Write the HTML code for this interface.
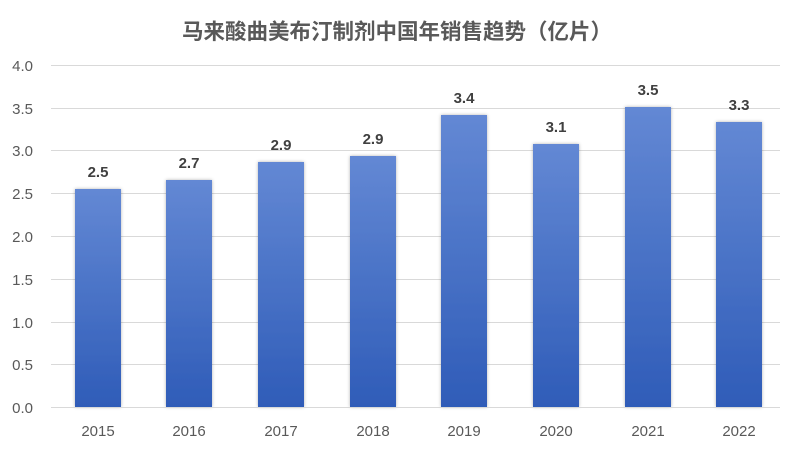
<!DOCTYPE html>
<html><head><meta charset="utf-8"><style>
body{margin:0;width:800px;height:448px;background:#fff;overflow:hidden}
</style></head><body>
<svg width="800" height="448" xmlns="http://www.w3.org/2000/svg" font-family="Liberation Sans, Noto Sans CJK SC, sans-serif">
<defs>
<linearGradient id="g" x1="0" y1="0" x2="0" y2="1">
<stop offset="0" stop-color="#6388d4"/><stop offset="1" stop-color="#2f5cb8"/>
</linearGradient>
<filter id="s" x="-20%" y="-5%" width="140%" height="110%"><feDropShadow dx="0" dy="0" stdDeviation="1.5" flood-color="#000" flood-opacity="0.3"/></filter>
</defs>
<text x="397" y="39" text-anchor="middle" font-size="21.5" font-weight="bold" fill="#595959" font-family="Noto Sans CJK SC, sans-serif">马来酸曲美布汀制剂中国年销售趋势（亿片）</text>
<g stroke="#d9d9d9" stroke-width="1">
<line x1="51" x2="780" y1="65.5" y2="65.5"/><line x1="51" x2="780" y1="108.5" y2="108.5"/>
<line x1="51" x2="780" y1="150.5" y2="150.5"/><line x1="51" x2="780" y1="193.5" y2="193.5"/>
<line x1="51" x2="780" y1="236.5" y2="236.5"/><line x1="51" x2="780" y1="279.5" y2="279.5"/>
<line x1="51" x2="780" y1="322.5" y2="322.5"/><line x1="51" x2="780" y1="364.5" y2="364.5"/>
</g>
<g font-size="15" fill="#595959" text-anchor="end">
<text x="33" y="71">4.0</text><text x="33" y="114">3.5</text><text x="33" y="156">3.0</text>
<text x="33" y="199">2.5</text><text x="33" y="242">2.0</text><text x="33" y="285">1.5</text>
<text x="33" y="328">1.0</text><text x="33" y="370">0.5</text><text x="33" y="413">0.0</text>
</g>
<g fill="url(#g)" filter="url(#s)">
<rect x="75" y="189" width="46" height="218"/>
<rect x="166" y="180" width="46" height="227"/>
<rect x="258" y="162" width="46" height="245"/>
<rect x="350" y="156" width="46" height="251"/>
<rect x="441" y="115" width="46" height="292"/>
<rect x="533" y="144" width="46" height="263"/>
<rect x="625" y="107" width="46" height="300"/>
<rect x="716" y="122" width="46" height="285"/>
</g>
<line x1="51" x2="780" y1="407.5" y2="407.5" stroke="#d9d9d9"/>
<g font-size="15" font-weight="bold" fill="#404040" text-anchor="middle">
<text x="98" y="177">2.5</text><text x="189" y="168">2.7</text><text x="281" y="150">2.9</text>
<text x="373" y="144">2.9</text><text x="464" y="103">3.4</text><text x="556" y="132">3.1</text>
<text x="648" y="95">3.5</text><text x="739" y="110">3.3</text>
</g>
<g font-size="15" fill="#595959" text-anchor="middle">
<text x="98" y="436">2015</text><text x="189" y="436">2016</text><text x="281" y="436">2017</text>
<text x="373" y="436">2018</text><text x="464" y="436">2019</text><text x="556" y="436">2020</text>
<text x="648" y="436">2021</text><text x="739" y="436">2022</text>
</g>
</svg>
</body></html>
